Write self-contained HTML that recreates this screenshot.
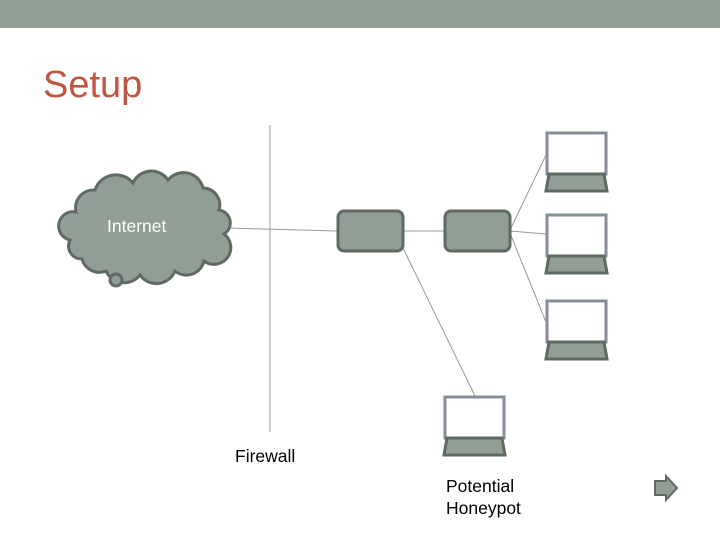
<!DOCTYPE html>
<html><head><style>
html,body{margin:0;padding:0;background:#fff;}
body{width:720px;height:540px;position:relative;overflow:hidden;font-family:"Liberation Sans",sans-serif;}
</style></head><body>
<svg width="720" height="540" style="position:absolute;left:0;top:0">
<rect x="0" y="0" width="720" height="28" fill="#919e94"/>
<text x="43" y="97" font-size="38" fill="#c0563f" font-family="Liberation Sans, sans-serif">Setup</text>
<line x1="270" y1="125" x2="270" y2="432" stroke="#999" stroke-width="1"/>
<g stroke="#999" stroke-width="1">
<line x1="228" y1="228" x2="337" y2="231"/>
<line x1="403" y1="231" x2="444" y2="231"/>
<line x1="510" y1="230" x2="546" y2="155"/>
<line x1="510" y1="231" x2="546" y2="234"/>
<line x1="510" y1="233" x2="546" y2="322"/>
<line x1="403" y1="248" x2="475" y2="396"/>
</g>
<path d="M76,212 A18,18 0 0 1 95,190 A22,22 0 0 1 133,183 A20,20 0 0 1 168,180 A20,20 0 0 1 203,188 A17,17 0 0 1 219,210 A13,13 0 0 1 224,234 A16,16 0 0 1 204,261 A18,18 0 0 1 175,271 A20,20 0 0 1 140,275 A20,20 0 0 1 106,271 A18,18 0 0 1 82,259 A13,13 0 0 1 70,240 A13,13 0 0 1 76,212 Z" fill="#919e94" stroke="#5f6a62" stroke-width="3"/>
<circle cx="116" cy="280" r="6" fill="#919e94" stroke="#5f6a62" stroke-width="3"/>
<text x="107" y="232" font-size="17.5" fill="#fff">Internet</text>
<rect x="338" y="211" width="65" height="40" rx="6" fill="#919e94" stroke="#5f6a62" stroke-width="3"/>
<rect x="445" y="211" width="65" height="40" rx="6" fill="#919e94" stroke="#5f6a62" stroke-width="3"/>
<g id="lt">
<rect x="547" y="133" width="59" height="41" fill="#fff" stroke="#868e9a" stroke-width="3"/>
<polygon points="549,174 604,174 607,191 546,191" fill="#919e94" stroke="#5f6a62" stroke-width="3"/>
</g>
<use href="#lt" y="82"/>
<use href="#lt" y="168"/>
<use href="#lt" x="-102" y="264"/>
<text x="235" y="462" font-size="17.5" fill="#000">Firewall</text>
<text x="446" y="492" font-size="17.5" fill="#000">Potential</text>
<text x="446" y="514" font-size="17.5" fill="#000">Honeypot</text>
<polygon points="655,481 666,481 666,476 677,488 666,500 666,495 655,495" fill="#919e94" stroke="#5f6a62" stroke-width="2"/>
</svg>
</body></html>
